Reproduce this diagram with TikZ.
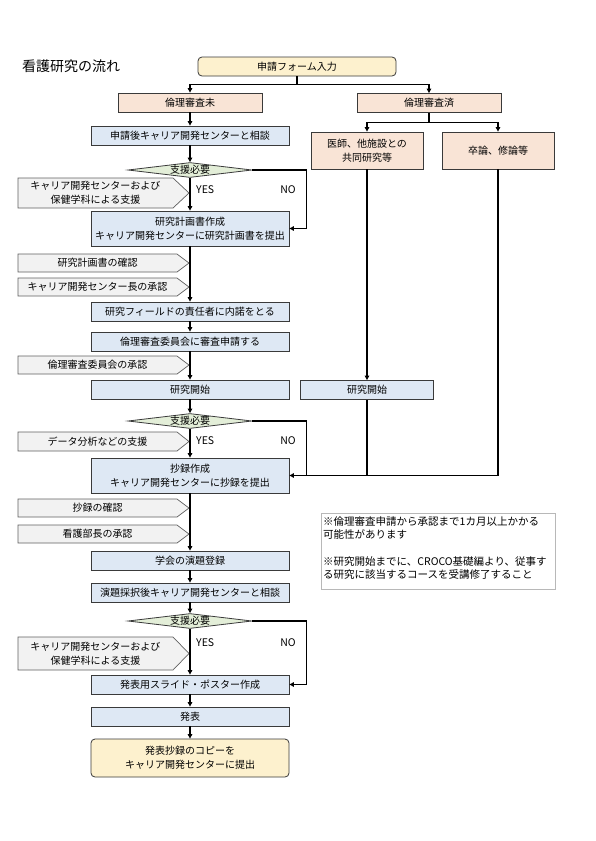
\documentclass[tikz,border=0pt]{standalone}
\usepackage{fontspec}
\setmainfont{Noto Sans CJK JP}
\usetikzlibrary{arrows.meta,shapes.geometric,calc}
\definecolor{yelF}{HTML}{FDF1CE}
\definecolor{peaF}{HTML}{F9E4D6}
\definecolor{bluF}{HTML}{DEE8F4}
\definecolor{grnF}{HTML}{E3EED8}
\definecolor{gryF}{HTML}{F2F2F2}
\definecolor{bdr}{HTML}{3A3A3A}
\definecolor{notebdr}{HTML}{B8B8B8}
\tikzset{
  base/.style={draw=bdr, line width=0.8pt, inner sep=0pt, align=center, font=\fontsize{10}{14}\selectfont},
  bbox/.style={base, fill=bluF, minimum width=198pt, minimum height=19pt},
  pbox/.style={base, fill=peaF, minimum height=19pt},
  ybox/.style={base, fill=yelF, rounded corners=4pt},
  dia/.style={diamond, draw=bdr, line width=0.8pt, fill=grnF, minimum width=124pt, minimum height=15pt, inner sep=0pt, aspect=8},
  dtext/.style={font=\fontsize{10}{12}\selectfont, inner sep=0pt},
  pentline/.style={draw=bdr!80, line width=0.7pt, fill=gryF},
  ptext/.style={font=\fontsize{10}{14}\selectfont, align=center, inner sep=0pt},
  yn/.style={font=\fontsize{10.5}{12}\selectfont, inner sep=0pt},
  conn/.style={line width=1.1pt, black},
  arr/.style={conn, -{Triangle[length=4.5pt,width=4.5pt]}},
}
\newcommand{\mypent}[5]{%
  \draw[pentline] (18,#2) -- ({189-#4},#2) -- (189,{(#2+#3)/2}) -- ({189-#4},#3) -- (18,#3) -- cycle;
  \node[ptext] (#1) at ({(18+189-#4)/2},{(#2+#3)/2}) {#5};}
\begin{document}
\begin{tikzpicture}[x=1pt,y=-1pt]
\fill[white] (0,0) rectangle (595,841);
\useasboundingbox (0,0) rectangle (595,841);

% title
\node[anchor=west, font=\fontsize{14}{16}\selectfont, inner sep=0pt] (title) at (22,66) {看護研究の流れ};

% pentagons (drawn first)
\mypent{p1}{178}{208}{16}{キャリア開発センターおよび\\保健学科による支援}
\mypent{p2}{254}{272}{12}{研究計画書の確認}
\mypent{p3}{278}{296}{12}{キャリア開発センター長の承認}
\mypent{p4}{356}{374}{12}{倫理審査委員会の承認}
\mypent{p5}{432}{451}{12}{データ分析などの支援}
\mypent{p6}{499}{517}{12}{抄録の確認}
\mypent{p7}{525}{543}{12}{看護部長の承認}
\mypent{p8}{637}{670}{16}{キャリア開発センターおよび\\保健学科による支援}

% nodes
\node[ybox, minimum width=198pt, minimum height=19pt] (start) at (297,66.5) {申請フォーム入力};
\node[pbox, minimum width=144pt] (mi) at (190,102.5) {倫理審査未};
\node[pbox, minimum width=144pt] (sumi) at (429,103) {倫理審査済};
\node[pbox, minimum width=112pt, minimum height=37pt] (ra) at (367,150.5) {医師、他施設との\\共同研究等};
\node[pbox, minimum width=112pt, minimum height=37pt] (rb) at (498,150.5) {卒論、修論等};

\node[bbox] (b1) at (190,135.5) {申請後キャリア開発センターと相談};
\node[dia] (d1) at (190,170) {};
\node[dtext] (d1t) at (d1) {支援必要};
\node[bbox, minimum height=35pt] (b2) at (190,228.5) {研究計画書作成\\キャリア開発センターに研究計画書を提出};
\node[bbox] (b3) at (190,311.5) {研究フィールドの責任者に内諾をとる};
\node[bbox] (b4) at (190,341.5) {倫理審査委員会に審査申請する};
\node[bbox] (b5) at (190,389.5) {研究開始};
\node[bbox, minimum width=133pt] (rs) at (367,390) {研究開始};
\node[dia] (d2) at (190,421) {};
\node[dtext] (d2t) at (d2) {支援必要};
\node[bbox, minimum height=35pt] (b6) at (190,475.5) {抄録作成\\キャリア開発センターに抄録を提出};
\node[bbox] (b7) at (190,560.5) {学会の演題登録};
\node[bbox] (b8) at (190,592.5) {演題採択後キャリア開発センターと相談};
\node[dia] (d3) at (190,621) {};
\node[dtext] (d3t) at (d3) {支援必要};
\node[bbox] (b9) at (190,684.5) {発表用スライド・ポスター作成};
\node[bbox] (b10) at (190,716.5) {発表};
\node[ybox, minimum width=198pt, minimum height=38pt] (b11) at (190,758) {発表抄録のコピーを\\キャリア開発センターに提出};

% YES / NO
\node[yn, anchor=west] (y1) at (196,190) {YES};
\node[yn] (n1) at (288,190) {NO};
\node[yn, anchor=west] (y2) at (196,441) {YES};
\node[yn] (n2) at (288,441) {NO};
\node[yn, anchor=west] (y3) at (196,643) {YES};
\node[yn] (n3) at (288,643) {NO};

% note
\node[draw=notebdr, line width=0.7pt, minimum width=234pt, minimum height=76pt, inner sep=0pt] (note) at (438,551) {};
\node[anchor=north west, align=left, inner sep=0pt, font=\fontsize{10.5}{13.5}\selectfont] (notet) at (323,516)
  {※倫理審査申請から承認まで1カ月以上かかる\\可能性があります\\[13pt]※研究開始までに、CROCO基礎編より、従事す\\る研究に該当するコースを受講修了すること};

% connectors: top branching
\draw[arr] (start.south) -- ++(0,8) -| (mi.north);
\draw[arr] (start.south) -- ++(0,8) -| (sumi.north);
\draw[arr] (sumi.south) -- ++(0,10) -| (ra.north);
\draw[arr] (sumi.south) -- ++(0,10) -| (rb.north);

% main trunk
\draw[arr] (mi.south) -- (b1.north);
\draw[arr] (b1.south) -- (d1.north);
\draw[arr] (d1.south) -- (b2.north);
\draw[arr] (b2.south) -- (b3.north);
\draw[arr] (b3.south) -- (b4.north);
\draw[arr] (b4.south) -- (b5.north);
\draw[arr] (b5.south) -- (d2.north);
\draw[arr] (d2.south) -- (b6.north);
\draw[arr] (b6.south) -- (b7.north);
\draw[arr] (b7.south) -- (b8.north);
\draw[arr] (b8.south) -- (d3.north);
\draw[arr] (d3.south) -- (b9.north);
\draw[arr] (b9.south) -- (b10.north);
\draw[arr] (b10.south) -- (b11.north);

% NO loops
\draw[arr] (d1.east) -| ($(b2.east)+(17,0)$) -- (b2.east);
\draw[conn] (d2.east) -| ($(b6.east)+(17,0)$);
\draw[arr] (d3.east) -| ($(b9.east)+(17,0)$) -- (b9.east);

% right column
\draw[arr] (ra.south) -- (rs.north);
\draw[conn] (rs.south) -- (rs.south |- b6.east);
\draw[arr] (rb.south) |- (b6.east);
\end{tikzpicture}
\end{document}
